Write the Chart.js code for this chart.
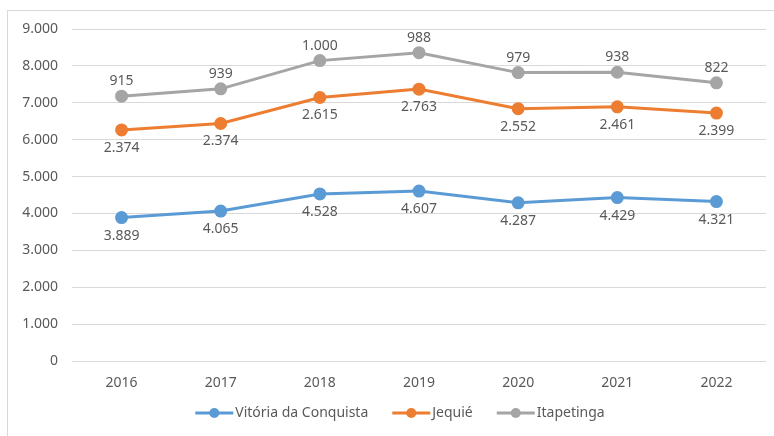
<!DOCTYPE html>
<html>
<head>
<meta charset="utf-8">
<script src="https://cdn.jsdelivr.net/npm/chart.js@4"></script>
<style>
  body { margin: 0; background: #fff; }
  #wrap { position: absolute; left: 0; top: 0; width: 774px; height: 436px; }
  #frame { position: absolute; left: 7px; top: 10px; width: 780px; height: 440px; border: 1px solid #d9d9d9; }
  canvas { position: absolute; left: 0; top: 0; }
</style>
</head>
<body>
<div id="wrap">
  <div id="frame"></div>
  <canvas id="chart" width="774" height="436"></canvas>
</div>
<script>
const years = ['2016', '2017', '2018', '2019', '2020', '2021', '2022'];
const vitoria = [3889, 4065, 4528, 4607, 4287, 4429, 4321];
const jequie = [2374, 2374, 2615, 2763, 2552, 2461, 2399];
const itapetinga = [915, 939, 1000, 988, 979, 938, 822];
const yTicks = [0, 1000, 2000, 3000, 4000, 5000, 6000, 7000, 8000, 9000];

const fmt = v => v.toLocaleString('pt-BR');
const FONT = '"Noto Sans", sans-serif';
const TEXT = '#595959';

// value labels: below for the two lower series, above for the top one
const valueLabels = {
  id: 'valueLabels',
  afterDatasetsDraw(chart) {
    const ctx = chart.ctx;
    ctx.save();
    ctx.font = '14px ' + FONT;
    ctx.fillStyle = TEXT;
    ctx.textAlign = 'center';
    ctx.textBaseline = 'middle';
    chart.data.datasets.forEach((ds, i) => {
      chart.getDatasetMeta(i).data.forEach((pt, j) => {
        const dy = ds.labelPos === 'above' ? -15 : 18;
        ctx.fillText(fmt(ds.data[j]), pt.x, pt.y + dy);
      });
    });
    ctx.restore();
  }
};

// excel-like legend: line with dot, then text
const lineLegend = {
  id: 'lineLegend',
  afterDraw(chart) {
    const ctx = chart.ctx;
    const sets = chart.data.datasets;
    const markW = 38, gap = 2, itemGap = 24, y = 413;
    ctx.save();
    ctx.font = '14px ' + FONT;
    const widths = sets.map(ds => markW + gap + ctx.measureText(ds.label).width);
    const total = widths.reduce((a, b) => a + b, 0) + itemGap * (sets.length - 1);
    let x = 400 - total / 2;
    sets.forEach((ds, i) => {
      ctx.strokeStyle = ds.borderColor;
      ctx.fillStyle = ds.borderColor;
      ctx.lineWidth = 3;
      ctx.beginPath(); ctx.moveTo(x, y); ctx.lineTo(x + markW, y); ctx.stroke();
      ctx.beginPath(); ctx.arc(x + markW / 2, y, 5, 0, Math.PI * 2); ctx.fill();
      ctx.fillStyle = TEXT;
      ctx.textAlign = 'left';
      ctx.textBaseline = 'middle';
      ctx.fillText(ds.label, x + markW + gap, y);
      x += widths[i] + itemGap;
    });
    ctx.restore();
  }
};

const mk = (label, data, color, labelPos) => ({
  label, data, labelPos,
  borderColor: color, backgroundColor: color,
  borderWidth: 3, pointRadius: 5, pointHoverRadius: 5,
  pointBackgroundColor: color, pointBorderColor: color,
  fill: false, tension: 0
});

new Chart(document.getElementById('chart'), {
  type: 'line',
  data: {
    labels: years,
    datasets: [
      mk('Vitória da Conquista', vitoria, '#5B9BD5', 'below'),
      mk('Jequié', jequie, '#ED7D31', 'below'),
      mk('Itapetinga', itapetinga, '#A5A5A5', 'above')
    ]
  },
  options: {
    responsive: false,
    animation: false,
    layout: { padding: { left: 7, right: 6, top: 29, bottom: 45 } },
    plugins: {
      tooltip: { enabled: false },
      legend: { display: false }
    },
    scales: {
      x: {
        offset: true,
        afterFit(scale) { scale.height = 30; },
        grid: { display: false },
        border: { display: false },
        ticks: { color: TEXT, font: { family: FONT, size: 14 }, padding: 6 }
      },
      y: {
        stacked: true,
        min: 0, max: 9000,
        afterBuildTicks(scale) { scale.ticks = yTicks.map(v => ({ value: v })); },
        afterFit(scale) { scale.width = 65; },
        grid: { color: '#d9d9d9', drawTicks: false },
        border: { display: false },
        ticks: {
          color: TEXT, font: { family: FONT, size: 14 }, padding: 14,
          callback: v => fmt(v)
        }
      }
    }
  },
  plugins: [valueLabels, lineLegend]
});
</script>
</body>
</html>
